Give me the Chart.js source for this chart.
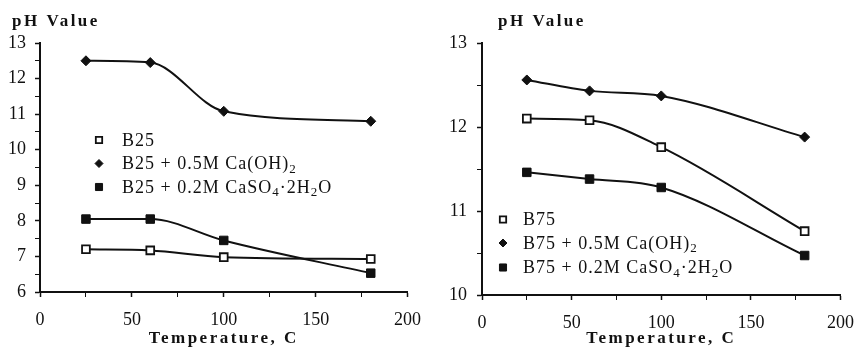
<!DOCTYPE html>
<html>
<head>
<meta charset="utf-8">
<script src="https://cdn.jsdelivr.net/npm/chart.js@4.4.1/dist/chart.umd.min.js"></script>
<style>
  html, body { margin: 0; padding: 0; background: #fff; }
  #wrap { position: relative; width: 866px; height: 350px; }
  canvas { position: absolute; top: 0; }
</style>
</head>
<body>
<div id="wrap">
  <canvas id="left" width="433" height="350" style="left:0"></canvas>
  <canvas id="right" width="433" height="350" style="left:433px"></canvas>
</div>
<script>
// temperatures (C) shared by both panels
const temps = [25, 60, 100, 180];

// left panel - B25
const b25 = [7.2, 7.17, 6.98, 6.93];
const b25CaOH = [12.5, 12.45, 11.08, 10.8];
const b25CaSO4 = [8.05, 8.05, 7.45, 6.53];
const leftLabels = ['B25', 'B25 + 0.5M Ca(OH)₂', 'B25 + 0.2M CaSO₄·2H₂O'];

// right panel - B75
const b75 = [12.1, 12.08, 11.76, 10.76];
const b75CaOH = [12.56, 12.43, 12.37, 11.88];
const b75CaSO4 = [11.46, 11.38, 11.28, 10.47];
const rightLabels = ['B75', 'B75 + 0.5M Ca(OH)₂', 'B75 + 0.2M CaSO₄·2H₂O'];

const xTickLabels = [0, 50, 100, 150, 200];
const yTitle = 'pH Value';
const xTitle = 'Temperature, C';

const INK = '#111';
const SERIF = '"Liberation Serif", "Times New Roman", serif';

// marker look for the three series (same in both panels)
const markers = [
  { pointStyle: 'rect', radius: 5.5, fill: '#fff', border: 1.8 },
  { pointStyle: 'rectRot', radius: 5, fill: INK, border: 1 },
  { pointStyle: 'rect', radius: 6, fill: INK, border: 1 }
];

function series(values, m) {
  return {
    data: temps.map((t, i) => ({ x: t, y: values[i] })),
    borderColor: INK,
    borderWidth: 2,
    fill: false,
    cubicInterpolationMode: 'monotone',
    pointStyle: m.pointStyle,
    pointRadius: m.radius,
    pointBackgroundColor: m.fill,
    pointBorderColor: INK,
    pointBorderWidth: m.border
  };
}

// draw text, unicode subscript digits become small lowered digits
function drawRich(ctx, text, x, y, size, spacing) {
  let runs = [];
  for (const ch of text) {
    const code = ch.charCodeAt(0);
    const sub = code >= 0x2080 && code <= 0x2089;
    const c = sub ? String(code - 0x2080) : ch;
    if (runs.length && runs[runs.length - 1].sub === sub) runs[runs.length - 1].t += c;
    else runs.push({ sub: sub, t: c });
  }
  for (const r of runs) {
    ctx.font = (r.sub ? Math.round(size * 0.72) : size) + 'px ' + SERIF;
    ctx.letterSpacing = spacing + 'px';
    ctx.fillText(r.t, x, r.sub ? y + size * 0.28 : y);
    x += ctx.measureText(r.t).width;
  }
}

const decorPlugin = {
  id: 'decor',
  afterDraw(chart, args, opts) {
    const ctx = chart.ctx;
    const area = chart.chartArea;
    ctx.save();
    ctx.fillStyle = INK;
    ctx.textBaseline = 'alphabetic';
    ctx.textAlign = 'left';
    ctx.letterSpacing = '2.5px';
    ctx.font = 'bold 17px ' + SERIF;
    ctx.fillText(yTitle, opts.titleX, 26);
    ctx.textAlign = 'center';
    ctx.fillText(xTitle, (area.left + area.right) / 2, 343);

    // legend inside the plot
    ctx.textAlign = 'left';
    ctx.textBaseline = 'middle';
    opts.labels.forEach((lab, i) => {
      const m = markers[i];
      const y = opts.legendY[i];
      ctx.fillStyle = m.fill;
      ctx.strokeStyle = INK;
      ctx.lineWidth = m.border;
      Chart.helpers.drawPoint(ctx, {
        pointStyle: m.pointStyle, radius: m.radius - 1, rotation: 0, borderWidth: m.border
      }, opts.markerX, y);
      ctx.fillStyle = INK;
      drawRich(ctx, lab, opts.textX, y + 1, 18, 1);
    });
    ctx.restore();
  }
};

function makeChart(id, sets, yMin, yMax, labels, lay) {
  return new Chart(document.getElementById(id), {
    type: 'line',
    data: { datasets: sets.map((s, i) => series(s, markers[i])) },
    plugins: [decorPlugin],
    options: {
      responsive: false,
      animation: false,
      devicePixelRatio: 1,
      layout: { padding: { top: 43, right: lay.padRight, left: 0, bottom: 0 } },
      plugins: {
        legend: { display: false },
        tooltip: { enabled: false },
        decor: {
          labels: labels,
          titleX: lay.titleX,
          markerX: lay.markerX,
          textX: lay.textX,
          legendY: lay.legendY
        }
      },
      scales: {
        x: {
          type: 'linear',
          min: 0,
          max: 200,
          afterFit: (s) => { s.height = lay.xHeight; },
          ticks: {
            stepSize: 25,
            autoSkip: false,
            maxRotation: 0,
            padding: 12,
            color: INK,
            font: { family: SERIF, size: 18 },
            callback: (v) => xTickLabels.includes(v) ? String(v) : ''
          },
          grid: {
            drawOnChartArea: false,
            drawTicks: true,
            tickLength: 5,
            color: INK,
            tickWidth: (c) => (c.tick && c.tick.value % 50 === 0) ? 1.5 : 1
          },
          border: { display: true, color: INK, width: 2 }
        },
        y: {
          type: 'linear',
          min: yMin,
          max: yMax,
          afterFit: (s) => { s.width = lay.yWidth; },
          ticks: {
            stepSize: 0.5,
            autoSkip: false,
            padding: lay.yPad,
            color: INK,
            font: { family: SERIF, size: 18 },
            callback: (v) => Number.isInteger(v) ? String(v) : ''
          },
          grid: {
            drawOnChartArea: false,
            drawTicks: true,
            tickLength: 5,
            color: INK,
            tickWidth: (c) => (c.tick && Number.isInteger(c.tick.value)) ? 1.5 : 1
          },
          border: { display: true, color: INK, width: 2 }
        }
      }
    }
  });
}

makeChart('left', [b25, b25CaOH, b25CaSO4], 6, 13, leftLabels, {
  padRight: 25, yWidth: 40, xHeight: 58, titleX: 12, yPad: 9,
  markerX: 99, textX: 122, legendY: [140, 163.5, 187]
});

makeChart('right', [b75, b75CaOH, b75CaSO4], 10, 13, rightLabels, {
  padRight: 15, yWidth: 49, xHeight: 55, titleX: 65, yPad: 10,
  markerX: 70, textX: 90, legendY: [219.5, 243, 267.5]
});
</script>
</body>
</html>
